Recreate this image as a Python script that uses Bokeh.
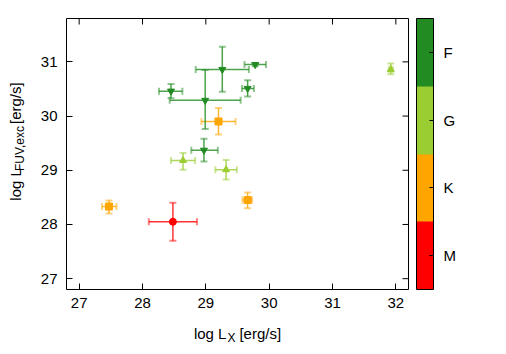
import math
from bokeh.plotting import figure
from bokeh.layouts import row, column
from bokeh.models import (ColumnDataSource, Whisker, TeeHead, FixedTicker,
                          ColorBar, LinearColorMapper, Label, Range1d)
from bokeh.embed import file_html
from bokeh.resources import INLINE

# ---- data ----
sptype = ["F", "F", "F", "F", "F", "F", "G", "G", "G", "K", "K", "K", "M"]
log_lx = [29.26, 29.78, 28.45, 29.66, 28.99, 28.97, 28.64, 29.32, 31.92, 29.20, 27.47, 29.66, 28.48]
log_lx_lo = [28.84, 29.61, 28.26, 29.57, 28.43, 28.77, 28.45, 29.15, 31.89, 28.93, 27.36, 29.58, 28.10]
log_lx_hi = [29.68, 29.95, 28.63, 29.76, 29.55, 29.19, 28.83, 29.49, 31.95, 29.47, 27.59, 29.73, 28.86]
log_lfuv = [30.86, 30.95, 30.46, 30.51, 30.29, 29.37, 29.18, 29.01, 30.86, 29.90, 28.33, 28.45, 28.05]
log_lfuv_lo = [30.45, 30.92, 30.33, 30.36, 29.76, 29.16, 29.01, 28.83, 30.77, 29.66, 28.20, 28.30, 27.70]
log_lfuv_hi = [31.28, 30.98, 30.59, 30.66, 30.85, 29.58, 29.32, 29.19, 30.97, 30.15, 28.44, 28.59, 28.40]

classes = ["M", "K", "G", "F"]
class_colors = ["#ff0000", "#ffa500", "#9acd32", "#228b22"]
class_markers = ["circle", "square", "triangle", "inverted_triangle"]
class_sizes = [7, 7, 7, 7]

x_ticks = [27, 28, 29, 30, 31, 32]
y_ticks = [27, 28, 29, 30, 31]
x_lim = (26.8, 32.2)
y_lim = (26.8, 31.8)

# title pieces: (text, font size, baseline shift, gap before the piece in px)
x_title = [("log L", "15px", 0, 0), ("X", "12px", -4, 1), ("[erg/s]", "15px", 0, 4)]
y_title = [("log L", "15px", 0, 0), ("FUV,exc", "12px", 4, 2.5), ("[erg/s]", "15px", 0, 9.5)]

FONT = "Liberation Sans"


def text_width(txt, fs):
    # Liberation Sans advance widths (per 1000 em)
    adv = {"l": 222, "o": 556, "g": 556, " ": 278, "L": 556, "X": 667, "[": 278, "e": 556,
           "r": 333, "/": 278, "s": 500, "]": 278, "F": 611, "U": 722, "V": 667, ",": 278,
           "x": 500, "c": 500}
    return sum(adv.get(ch, 556) for ch in txt) * float(fs[:-2]) / 1000.0


# ---- main plot ----
p = figure(width=474, height=320, x_range=Range1d(*x_lim), y_range=Range1d(*y_lim),
           output_backend="svg", toolbar_location=None,
           min_border_left=40, min_border_right=92, min_border_top=18, min_border_bottom=31)
p.grid.visible = False
p.outline_line_color = "black"
p.outline_line_width = 1
p.background_fill_color = "white"
p.border_fill_color = "white"

for ax, ticks in ((p.xaxis, x_ticks), (p.yaxis, y_ticks)):
    ax.ticker = FixedTicker(ticks=ticks)
    ax.axis_line_color = None
    ax.major_tick_in = 6
    ax.major_tick_out = 0
    ax.major_tick_line_color = "black"
    ax.minor_tick_line_color = None
    ax.major_label_text_font = FONT
    ax.major_label_text_font_size = "15px"
    ax.major_label_text_color = "black"
p.xaxis.major_label_standoff = 8
p.yaxis.major_label_standoff = 9

# mirrored inward ticks on the top and right edges (outer half is clipped by the frame)
p.scatter(x=x_ticks, y=[y_lim[1]] * len(x_ticks), marker="dash", angle=math.pi / 2,
          size=12, line_color="black", line_width=1)
p.scatter(x=[x_lim[1]] * len(y_ticks), y=y_ticks, marker="dash", angle=0,
          size=12, line_color="black", line_width=1)

# ---- points with error bars ----
for cls, col, mk, sz in zip(classes, class_colors, class_markers, class_sizes):
    idx = [i for i, s in enumerate(sptype) if s == cls]
    src = ColumnDataSource(dict(
        x=[log_lx[i] for i in idx], xlo=[log_lx_lo[i] for i in idx], xhi=[log_lx_hi[i] for i in idx],
        y=[log_lfuv[i] for i in idx], ylo=[log_lfuv_lo[i] for i in idx], yhi=[log_lfuv_hi[i] for i in idx]))
    for dim, base, lo, hi in (("width", "y", "xlo", "xhi"), ("height", "x", "ylo", "yhi")):
        w = Whisker(source=src, base=base, lower=lo, upper=hi, dimension=dim,
                    line_color=col, line_alpha=0.8, line_width=1.5, level="underlay",
                    lower_head=TeeHead(size=7, line_color=col, line_alpha=0.5, line_width=2),
                    upper_head=TeeHead(size=7, line_color=col, line_alpha=0.5, line_width=2))
        p.add_layout(w)
    p.scatter("x", "y", source=src, marker=mk, size=sz, fill_color=col, line_color=col)

# ---- colour bar ----
mapper = LinearColorMapper(palette=class_colors, low=0, high=len(classes))
cb = ColorBar(color_mapper=mapper, ticker=FixedTicker(ticks=[0.5, 1.5, 2.5, 3.5]),
              major_label_overrides={0.5: "M", 1.5: "K", 2.5: "G", 3.5: "F"},
              width=17, height=271, location=(8, 0), margin=0, padding=0,
              bar_line_color="black", bar_line_width=1,
              major_tick_in=4, major_tick_out=0, major_tick_line_color="black",
              minor_tick_line_color=None, label_standoff=10,
              major_label_text_font=FONT, major_label_text_font_size="15px",
              major_label_text_color="black",
              background_fill_color=None, border_line_color=None)
p.add_layout(cb, "right")


def blank(w, h):
    f = figure(width=w, height=h, x_range=Range1d(0, w), y_range=Range1d(0, h),
               x_axis_type=None, y_axis_type=None, title=None,
               output_backend="svg", toolbar_location=None,
               min_border=0, min_border_left=0, min_border_right=0,
               min_border_top=0, min_border_bottom=0)
    f.grid.visible = False
    f.outline_line_color = None
    f.background_fill_color = "white"
    f.border_fill_color = "white"
    return f


def title_length(pieces):
    return sum(gap + text_width(t, fs) for t, fs, _, gap in pieces)


# ---- y title (rotated), in its own strip left of the plot ----
ylab = blank(26, 320)
pos = 320 - 149 - title_length(y_title) / 2   # title centred 149 px below the top
for txt, fs, shift, gap in y_title:
    pos += gap
    ylab.add_layout(Label(x=15 + shift, y=pos, text=txt, angle=math.pi / 2,
                          text_font=FONT, text_font_size=fs, text_color="black",
                          text_align="left", text_baseline="alphabetic"))
    pos += text_width(txt, fs)

# ---- x title, in its own strip below the plot ----
xlab = blank(500, 26)
pos = 237 - title_length(x_title) / 2
for txt, fs, shift, gap in x_title:
    pos += gap
    xlab.add_layout(Label(x=pos, y=13 + shift, text=txt,
                          text_font=FONT, text_font_size=fs, text_color="black",
                          text_align="left", text_baseline="alphabetic"))
    pos += text_width(txt, fs)

layout = column(row(ylab, p, spacing=0), xlab, spacing=0)
open("out.html", "w").write(file_html(layout, INLINE))
